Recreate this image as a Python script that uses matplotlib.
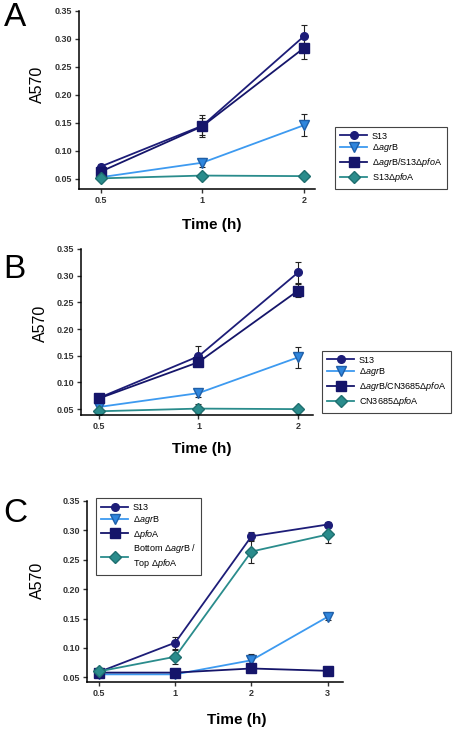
import numpy as np
import matplotlib
matplotlib.use("Agg")
import matplotlib.pyplot as plt

plt.rcParams['font.family'] = ['Liberation Sans', 'DejaVu Sans']
plt.rcParams['mathtext.fontset'] = 'custom'
plt.rcParams['mathtext.rm'] = 'Liberation Sans'
plt.rcParams['mathtext.it'] = 'Liberation Sans:italic'

# data
times_ab = ['0.5', '1', '2']
times_c = ['0.5', '1', '2', '3']

a_s13 = [0.072, 0.145, 0.305]
a_s13_err = [0.004, 0.02, 0.02]
a_agrb = [0.053, 0.079, 0.146]
a_agrb_err = [0.003, 0.008, 0.02]
a_comp = [0.063, 0.144, 0.284]
a_comp_err = [0.004, 0.015, 0.02]
a_pfoa = [0.051, 0.056, 0.055]
a_pfoa_err = [0.002, 0.002, 0.002]

b_s13 = [0.071, 0.149, 0.306]
b_s13_err = [0.004, 0.019, 0.019]
b_agrb = [0.054, 0.080, 0.147]
b_agrb_err = [0.003, 0.008, 0.02]
b_comp = [0.070, 0.138, 0.272]
b_comp_err = [0.004, 0.006, 0.012]
b_pfoa = [0.046, 0.051, 0.050]
b_pfoa_err = [0.003, 0.008, 0.002]

c_s13 = [0.059, 0.109, 0.290, 0.310]
c_s13_err = [0.002, 0.01, 0.008, 0.004]
c_agrb = [0.055, 0.055, 0.079, 0.153]
c_agrb_err = [0.002, 0.003, 0.01, 0.005]
c_pfoa = [0.058, 0.058, 0.065, 0.061]
c_pfoa_err = [0.002, 0.002, 0.002, 0.002]
c_bt = [0.060, 0.085, 0.264, 0.293]
c_bt_err = [0.002, 0.012, 0.02, 0.015]

navy = '#1d1d78'
navy2 = '#15156a'
lblue = '#3d9af0'
teal = '#2a8c8c'

styles = {
    's13': dict(color=navy, marker='o', ms=5.5, mfc=navy, mec=navy),
    'agrb': dict(color=lblue, marker='v', ms=7.5, mfc='#2f86dd', mec='#1f5fa8'),
    'comp': dict(color=navy2, marker='s', ms=7, mfc=navy2, mec=navy2),
    'pfoa': dict(color=teal, marker='D', ms=6.5, mfc=teal, mec='#1f6f6f'),
}

W, H = 455, 733
fig = plt.figure(figsize=(W / 100, H / 100), dpi=100)


def make_ax(left, right, top, bottom):
    return fig.add_axes([left / W, (H - bottom) / H, (right - left) / W, (bottom - top) / H])


def style_ax(ax, labels, ylo, xlo, xhi, ylab_pos, xlab_pos):
    ax.set_xticks(range(len(labels)))
    ax.set_xticklabels(labels)
    ax.set_yticks(np.arange(0.05, 0.351, 0.05))
    ax.set_yticklabels(['%.2f' % v for v in np.arange(0.05, 0.351, 0.05)])
    ax.set_ylim(ylo, 0.35)
    ax.set_xlim(xlo, xhi)
    for s in ['top', 'right']:
        ax.spines[s].set_visible(False)
    for s in ['left', 'bottom']:
        ax.spines[s].set_linewidth(1.1)
    ax.tick_params(direction='out', length=3, width=1, labelsize=6.5, colors='#333333', pad=2)
    for t in ax.get_xticklabels() + ax.get_yticklabels():
        t.set_fontweight('bold')
    ax.set_ylabel('A570', fontsize=11.5, va='center')
    ax.yaxis.set_label_coords(*ylab_pos)
    ax.set_xlabel('Time (h)', fontsize=11, fontweight='bold', va='center')
    ax.xaxis.set_label_coords(*xlab_pos)


def series(ax, vals, errs, key, label):
    x = np.arange(len(vals))
    ax.errorbar(x, vals, yerr=errs, fmt='none', ecolor='#222222', elinewidth=0.8,
                capsize=2.5, capthick=0.8, zorder=1)
    ax.plot(x, vals, lw=1.3, label=label, zorder=2, **styles[key])


def legend(ax, **kw):
    lg = ax.legend(fontsize=6.5, handlelength=3.0, borderpad=0.55, labelspacing=0.2,
                   handletextpad=0.5, fancybox=False, framealpha=1, borderaxespad=0,
                   edgecolor='#444444', **kw)
    lg.get_frame().set_linewidth(0.8)
    return lg


dagrb = r'Δ$\mathit{agr}$B'
dpfoa = r'Δ$\mathit{pfo}$A'

# Panel A
axA = make_ax(79, 315, 11, 189)
series(axA, a_s13, a_s13_err, 's13', 'S13')
series(axA, a_agrb, a_agrb_err, 'agrb', dagrb)
series(axA, a_comp, a_comp_err, 'comp', dagrb + '/S13' + dpfoa)
series(axA, a_pfoa, a_pfoa_err, 'pfoa', 'S13' + dpfoa)
style_ax(axA, times_ab, 0.032, -0.213, 2.108, (-0.178, 0.59), (0.564, -0.2))
legend(axA, loc='lower right', bbox_to_anchor=(447 / W, (H - 189) / H),
       bbox_transform=fig.transFigure)
fig.text(15 / W, (H - 18) / H, 'A', fontsize=24, ha='center', va='center')

# Panel B
axB = make_ax(81, 313, 249, 415)
series(axB, b_s13, b_s13_err, 's13', 'S13')
series(axB, b_agrb, b_agrb_err, 'agrb', dagrb)
series(axB, b_comp, b_comp_err, 'comp', dagrb + '/CN3685' + dpfoa)
series(axB, b_pfoa, b_pfoa_err, 'pfoa', 'CN3685' + dpfoa)
style_ax(axB, times_ab, 0.039, -0.18, 2.15, (-0.174, 0.55), (0.52, -0.207))
legend(axB, loc='lower right', bbox_to_anchor=(451 / W, (H - 413) / H),
       bbox_transform=fig.transFigure)
fig.text(14 / W, (H - 270) / H, 'B', fontsize=24, ha='center', va='center')

# Panel C
axC = make_ax(87, 343, 501, 682)
series(axC, c_s13, c_s13_err, 's13', 'S13')
series(axC, c_agrb, c_agrb_err, 'agrb', dagrb)
series(axC, c_pfoa, c_pfoa_err, 'comp', dpfoa)
series(axC, c_bt, c_bt_err, 'pfoa', 'Bottom ' + dagrb + ' /\nTop ' + dpfoa)
style_ax(axC, times_c, 0.042, -0.157, 3.2, (-0.193, 0.56), (0.586, -0.21))
legend(axC, loc='upper left', bbox_to_anchor=(96 / W, (H - 498) / H),
       bbox_transform=fig.transFigure)
fig.text(15 / W, (H - 514) / H, 'C', fontsize=24, ha='center', va='center')

fig.savefig('out.png', dpi=100)
